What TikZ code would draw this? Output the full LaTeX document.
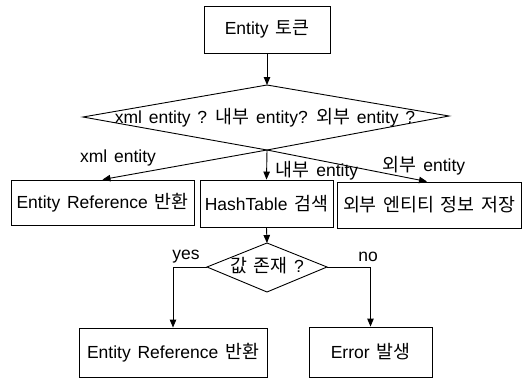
\documentclass[tikz,border=0pt]{standalone}
\usepackage{fontspec}
\setmainfont[WordSpace=1.4]{Liberation Sans}
\newfontfamily\kr[Scale=1.05,WordSpace=1.6]{Noto Sans CJK KR}
\newcommand{\K}[1]{{\kr #1}}
\usetikzlibrary{arrows.meta}
\begin{document}
\begin{tikzpicture}[x=1pt,y=-1pt, line width=0.9pt,
  every node/.style={font=\fontsize{17.5}{20}\selectfont, inner sep=0pt},
  box/.style={draw, rectangle},
  arr/.style={-{Triangle[length=8pt,width=6.5pt]}}]
\useasboundingbox (0,0) rectangle (522,378);
% boxes
\node[box, minimum width=126pt, minimum height=47pt] (top) at (267,29.5) {Entity \K{토큰}};
\node[box, minimum width=183pt, minimum height=45pt] (lbox) at (102.5,202.5) {Entity Reference \K{반환}};
\node[box, minimum width=133pt, minimum height=47pt] (mbox) at (266.5,203.5) {HashTable \K{검색}};
\node[box, minimum width=184pt, minimum height=46pt] (rbox) at (429,205) {\K{외부 엔티티 정보 저장}};
\node[box, minimum width=188pt, minimum height=49pt] (blbox) at (173,352.5) {Entity Reference \K{반환}};
\node[box, minimum width=123pt, minimum height=50pt] (brbox) at (370.5,352) {Error \K{발생}};
% big diamond
\coordinate (dT) at (267,85);
\coordinate (dL) at (83,117);
\coordinate (dR) at (449,116);
\coordinate (dB) at (267,150);
\draw (dT) -- (dL) -- (dB) -- (dR) -- cycle;
\node (dtext) at (265,118) {xml entity ? \K{내부} entity? \K{외부} entity ?};
% small diamond
\coordinate (sT) at (267,243);
\coordinate (sL) at (207,267);
\coordinate (sR) at (327,267);
\coordinate (sB) at (267,292);
\draw (sT) -- (sL) -- (sB) -- (sR) -- cycle;
\node (stext) at (267,266) {\K{값 존재} ?};
% connectors
\draw[arr] (top.south) -- (dT);
\draw[arr] (dB) -- (lbox.north);
\draw[arr] (dB) -- (mbox.north);
\draw[arr] (dB) -- (rbox.north -| 427,0);
\draw[arr] (mbox.south) -- (sT);
\draw[arr] (sL) -| (blbox.north);
\draw[arr] (sR) -| (brbox.north);
% labels
\node (lx) at (118,158) {xml entity};
\node (ln) at (317,171) {\K{내부} entity};
\node (lo) at (424,166) {\K{외부} entity};
\node (ly) at (186,257) {yes};
\node (lno) at (368,257) {no};
\end{tikzpicture}
\end{document}
